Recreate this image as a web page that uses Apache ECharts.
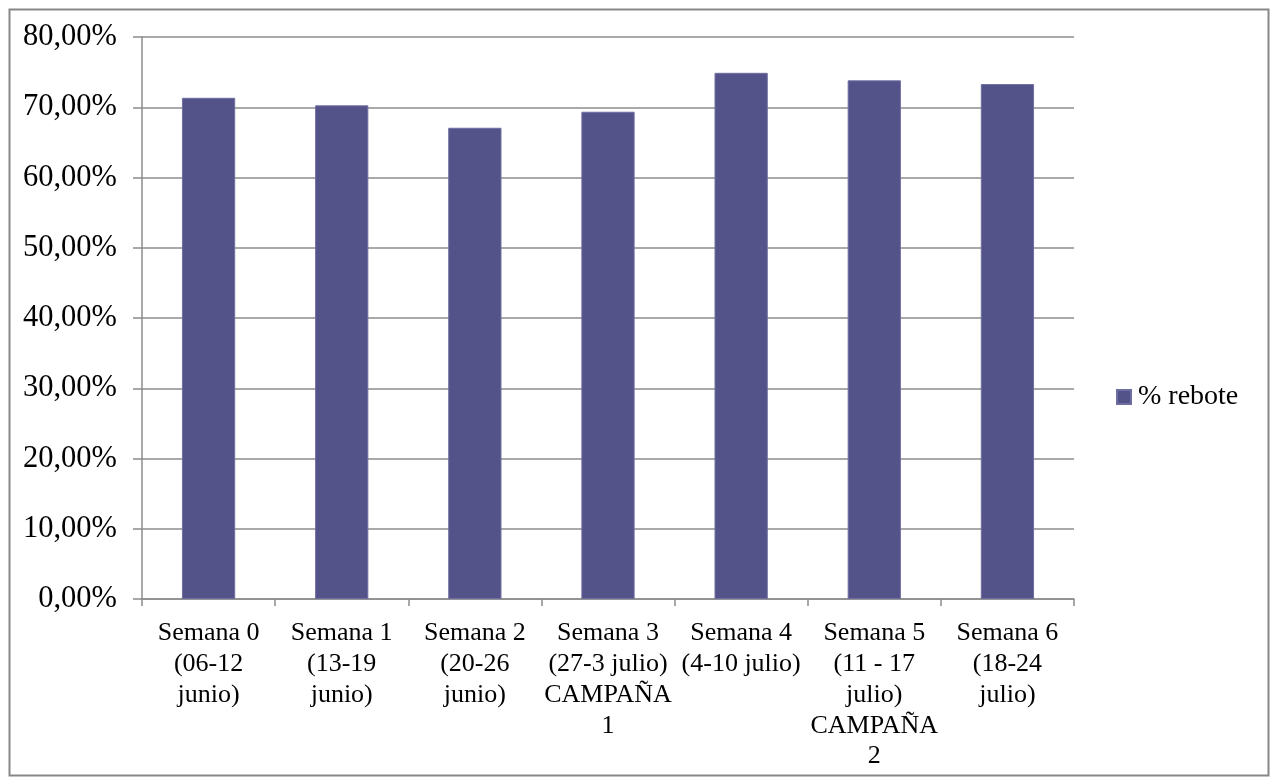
<!DOCTYPE html>
<html>
<head>
<meta charset="utf-8">
<script src="https://cdn.jsdelivr.net/npm/echarts@6/dist/echarts.min.js"></script>
<style>
  html, body { margin: 0; padding: 0; background: #ffffff; }
  #chart { width: 1272px; height: 780px; }
</style>
</head>
<body>
<div id="chart"></div>
<script>
// Weekly bounce rate
const categories = [
  'Semana 0\n(06-12\njunio)',
  'Semana 1\n(13-19\njunio)',
  'Semana 2\n(20-26\njunio)',
  'Semana 3\n(27-3 julio)\nCAMPAÑA\n1',
  'Semana 4\n(4-10 julio)',
  'Semana 5\n(11 - 17\njulio)\nCAMPAÑA\n2',
  'Semana 6\n(18-24\njulio)'
];
const seriesName = '% rebote';
const rebote = [71.35, 70.27, 67.08, 69.36, 74.9, 73.83, 73.3];
const yMin = 0;
const yMax = 80;
const yStep = 10;

const FONT = '"Liberation Serif", "Times New Roman", serif';
const GRID_GRAY = '#8c8c8c';
const BAR_COLOR = '#53538a';

const chart = echarts.init(document.getElementById('chart'), null, { renderer: 'canvas' });

chart.setOption({
  backgroundColor: '#ffffff',
  animation: false,
  textStyle: { fontFamily: FONT, color: '#000000' },
  graphic: [{
    type: 'rect',
    left: 7, top: 7,
    shape: { width: 1259, height: 766 },
    style: { fill: 'none', stroke: '#878787', lineWidth: 2 },
    silent: true
  }],
  grid: { left: 142, top: 37, right: 198, bottom: 181, containLabel: false },
  legend: {
    data: [seriesName],
    orient: 'vertical',
    left: 1111,
    top: 378,
    icon: 'rect',
    itemWidth: 14,
    itemHeight: 14,
    itemGap: 0,
    textStyle: { fontFamily: FONT, fontSize: 28, color: '#000000', padding: [0, 0, 0, 2] }
  },
  xAxis: {
    type: 'category',
    data: categories,
    axisLine: { show: true, lineStyle: { color: GRID_GRAY, width: 1.5 } },
    axisTick: { show: true, alignWithLabel: false, length: 7, lineStyle: { color: GRID_GRAY, width: 1.5 } },
    axisLabel: {
      interval: 0,
      hideOverlap: false,
      margin: 19,
      fontFamily: FONT,
      fontSize: 26,
      lineHeight: 30.8,
      color: '#000000',
      align: 'center'
    }
  },
  yAxis: {
    type: 'value',
    min: yMin,
    max: yMax,
    interval: yStep,
    axisLine: { show: true, lineStyle: { color: GRID_GRAY, width: 1.5 } },
    axisTick: { show: true, length: 9, lineStyle: { color: GRID_GRAY, width: 1.5 } },
    splitLine: { show: true, lineStyle: { color: GRID_GRAY, width: 1.5 } },
    axisLabel: {
      margin: 25,
      fontFamily: FONT,
      fontSize: 30.5,
      color: '#000000',
      formatter: v => v.toFixed(2).replace('.', ',') + '%'
    }
  },
  series: [{
    name: seriesName,
    type: 'bar',
    data: rebote,
    barWidth: '40%',
    itemStyle: { color: BAR_COLOR, borderColor: '#6f6ea0', borderWidth: 1 }
  }]
});
</script>
</body>
</html>
